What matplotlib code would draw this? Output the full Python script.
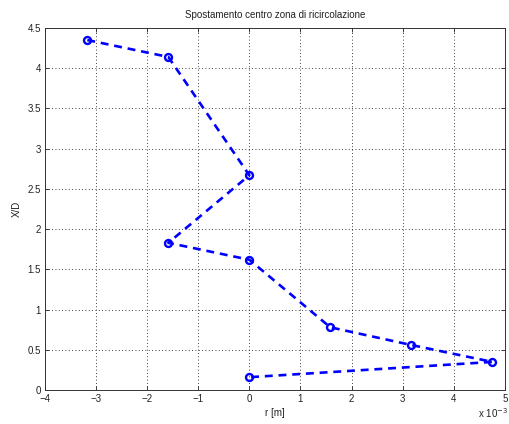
import matplotlib
matplotlib.use("Agg")
import matplotlib.pyplot as plt
from matplotlib.ticker import FuncFormatter

# Radial position of the recirculation-zone centre (in units of 1e-3 m) and axial station X/D
r_mm = [-3.17, -1.585, 0.0, -1.585, 0.0, 1.585, 3.17, 4.755, 0.0]
x_over_d = [4.35, 4.14, 2.67, 1.83, 1.62, 0.78, 0.56, 0.35, 0.16]

x_ticks = [-4, -3, -2, -1, 0, 1, 2, 3, 4, 5]
y_ticks = [0, 0.5, 1, 1.5, 2, 2.5, 3, 3.5, 4, 4.5]

plt.rcParams['font.family'] = ['Liberation Sans', 'DejaVu Sans']

fig = plt.figure(figsize=(5.10, 4.24), dpi=100)
ax = fig.add_axes([0.088, 0.080, 0.902, 0.854])

ax.plot(r_mm, x_over_d, color='#0000ff', linestyle='--', linewidth=1.9,
        dashes=(3, 2.2), marker='o', markersize=5, markerfacecolor='none',
        markeredgewidth=1.7, markeredgecolor='#0000ff')

ax.set_xlim(-4, 5)
ax.set_ylim(0, 4.5)
ax.set_xticks(x_ticks)
ax.set_yticks(y_ticks)
ax.xaxis.set_major_formatter(FuncFormatter(lambda v, p: f"{v:g}".replace('-', '\u2212')))
ax.yaxis.set_major_formatter(FuncFormatter(lambda v, p: f"{v:g}"))

ax.grid(True, color='black', linestyle=(0, (1, 3)), linewidth=0.6)
ax.tick_params(direction='in', length=3, width=0.6, labelsize=7, colors='#222222',
               top=True, right=True, pad=3)
for s in ax.spines.values():
    s.set_linewidth(0.7)
    s.set_color('#333333')

ax.set_title('Spostamento centro zona di ricircolazione', fontsize=7, pad=7, color='#222222')
ax.set_xlabel('r [m]', fontsize=7, labelpad=3, color='#222222')
ax.set_ylabel('X/D', fontsize=7, labelpad=4, color='#222222')

fig.text(0.937, 0.015, r'x 10$^{-3}$', fontsize=7, color='#222222')

fig.savefig('out.png', dpi=100, facecolor='white')
